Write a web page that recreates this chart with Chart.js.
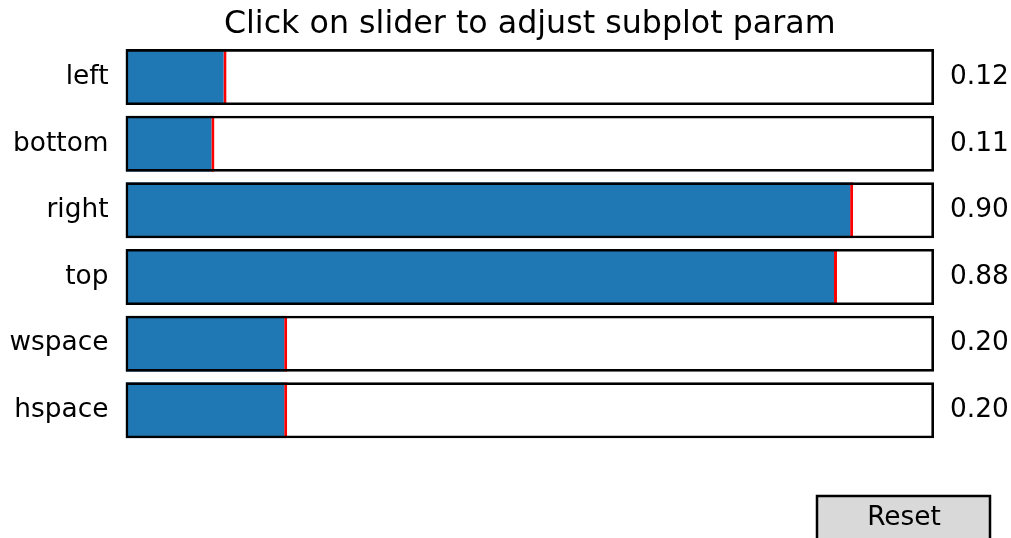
<!DOCTYPE html>
<html>
<head>
<meta charset="utf-8">
<script src="https://cdn.jsdelivr.net/npm/chart.js@4/dist/chart.umd.min.js"></script>
<style>
  html, body { margin: 0; padding: 0; background: #ffffff; }
  canvas { display: block; }
</style>
</head>
<body>
<canvas id="c" width="1011" height="538"></canvas>
<script>
const sliderLabels = ['left', 'bottom', 'right', 'top', 'wspace', 'hspace'];
const sliderValues = [0.125, 0.11, 0.9, 0.88, 0.2, 0.2];
const valueLabels = ['0.12', '0.11', '0.90', '0.88', '0.20', '0.20'];
const sliderMax = [1, 1, 1, 1, 1, 1];
const titleText = 'Click on slider to adjust subplot param';
const buttonText = 'Reset';

const FONT = "'DejaVu Sans', 'Liberation Sans', sans-serif";

const resetButton = {
  id: 'resetButton',
  afterDraw(chart) {
    const ctx = chart.ctx;
    ctx.save();
    ctx.fillStyle = '#d9d9d9';
    ctx.fillRect(817, 495, 173, 50);
    ctx.strokeStyle = '#000000';
    ctx.lineWidth = 2.5;
    ctx.strokeRect(817, 496, 173, 50);
    ctx.fillStyle = '#000000';
    ctx.font = '26.4px ' + FONT;
    ctx.textAlign = 'center';
    ctx.textBaseline = 'alphabetic';
    ctx.fillText(buttonText, 904, 525);
    ctx.restore();
  }
};

new Chart(document.getElementById('c'), {
  type: 'bar',
  data: {
    labels: sliderLabels,
    datasets: [
      {
        label: 'frame',
        data: sliderMax,
        backgroundColor: 'rgba(0,0,0,0)',
        borderColor: '#000000',
        borderWidth: 2.6,
        borderSkipped: false,
        grouped: false,
        inflateAmount: 0,
        barPercentage: 1,
        categoryPercentage: 0.84
      },
      {
        label: 'value',
        data: sliderValues,
        backgroundColor: '#1f77b4',
        borderColor: '#ff0000',
        borderWidth: { top: 0, bottom: 0, left: 0, right: 3 },
        borderSkipped: false,
        grouped: false,
        inflateAmount: 0,
        barPercentage: 1,
        categoryPercentage: 0.84
      }
    ]
  },
  options: {
    indexAxis: 'y',
    responsive: false,
    animation: false,
    events: [],
    layout: { padding: { top: 0, left: 0, right: 0, bottom: 94.4 } },
    plugins: {
      legend: { display: false },
      tooltip: { enabled: false },
      title: {
        display: true,
        text: titleText,
        fullSize: false,
        color: '#000000',
        font: { family: FONT, size: 31.7, weight: 'normal' },
        padding: { top: 5.5, bottom: 0.2 }
      }
    },
    scales: {
      x: {
        type: 'linear',
        min: 0,
        max: 1,
        display: false
      },
      y: {
        type: 'category',
        position: 'left',
        offset: true,
        grid: { display: false, drawTicks: false, offset: true },
        border: { display: false },
        ticks: {
          color: '#000000',
          padding: 17,
          font: { family: FONT, size: 26.4 }
        },
        afterFit(scale) { scale.width = 125.5; }
      },
      y2: {
        type: 'category',
        position: 'right',
        labels: valueLabels,
        offset: true,
        grid: { display: false, drawTicks: false, offset: true },
        border: { display: false },
        ticks: {
          color: '#000000',
          padding: 16,
          font: { family: FONT, size: 26.4 }
        },
        afterFit(scale) { scale.width = 77; }
      }
    }
  },
  plugins: [resetButton]
});
</script>
</body>
</html>
